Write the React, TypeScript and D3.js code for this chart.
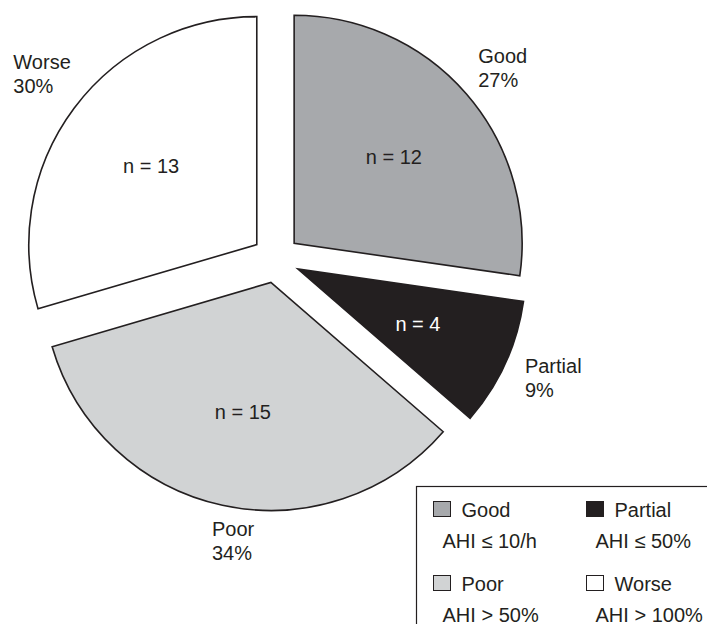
import { useEffect, useRef } from "react";
import * as d3 from "d3";

const categories = ["Good", "Partial", "Poor", "Worse"];
const counts = [12, 4, 15, 13];
const percents = ["27%", "9%", "34%", "30%"];
const criteria = ["AHI \u2264 10/h", "AHI \u2264 50%", "AHI > 50%", "AHI > 100%"];
const legendOrder = ["Good", "Partial", "Poor", "Worse"];

const W = 707;
const H = 624;
const CX = 276;
const CY = 259;
const RADIUS = 228;
const EXPLODE = 24;
const INNER_LABEL_R = 132;
const OUTER_LABEL_R = 296;
const FONT = "'Liberation Sans', Arial, Helvetica, sans-serif";
const INK = "#231f20";

const fills: Record<string, string> = {
  Good: "#a7a9ac",
  Partial: "#231f20",
  Poor: "#d1d3d4",
  Worse: "#ffffff",
};

// small nudges so the outside labels sit where the original put them
const labelNudge: Record<string, [number, number]> = {
  Good: [3, 3],
  Partial: [8, -4],
  Poor: [20, -7],
  Worse: [3, -8],
};

type Slice = { name: string; n: number; pct: string };

export default function App() {
  const svgRef = useRef<SVGSVGElement>(null);

  useEffect(() => {
    if (!svgRef.current) return;
    const svg = d3.select(svgRef.current);
    svg.selectAll("*").remove();

    const rows: Slice[] = categories.map((name, i) => ({
      name,
      n: counts[i],
      pct: percents[i],
    }));

    const pie = d3
      .pie<Slice>()
      .sort(null)
      .value((d) => d.n)
      .startAngle(0)
      .endAngle(2 * Math.PI);
    const arcs = pie(rows);

    const arc = d3
      .arc<d3.PieArcDatum<Slice>>()
      .innerRadius(0)
      .outerRadius(RADIUS);
    const labelArc = d3
      .arc<d3.PieArcDatum<Slice>>()
      .innerRadius(INNER_LABEL_R)
      .outerRadius(INNER_LABEL_R);

    const g = svg.append("g").attr("transform", `translate(${CX},${CY})`);

    const midDir = (d: d3.PieArcDatum<Slice>) => {
      const a = (d.startAngle + d.endAngle) / 2;
      return [Math.sin(a), -Math.cos(a)];
    };

    const slice = g
      .selectAll("g.slice")
      .data(arcs)
      .enter()
      .append("g")
      .attr("class", "slice")
      .attr("transform", (d) => {
        const [dx, dy] = midDir(d);
        return `translate(${dx * EXPLODE},${dy * EXPLODE})`;
      });

    slice
      .append("path")
      .attr("d", arc)
      .attr("fill", (d) => fills[d.data.name])
      .attr("stroke", INK)
      .attr("stroke-width", 1.6)
      .attr("stroke-linejoin", "miter");

    slice
      .append("text")
      .attr("transform", (d) => `translate(${labelArc.centroid(d)})`)
      .attr("text-anchor", "middle")
      .attr("dy", "0.36em")
      .style("font-family", FONT)
      .style("font-size", "20px")
      .style("fill", (d) => (d.data.name === "Partial" ? "#ffffff" : INK))
      .text((d) => `n = ${d.data.n}`);

    // outside labels: name + percent, left aligned block
    arcs.forEach((d) => {
      const [dx, dy] = midDir(d);
      const [nx, ny] = labelNudge[d.data.name];
      const bx = CX + dx * OUTER_LABEL_R + nx;
      const by = CY + dy * OUTER_LABEL_R + ny;
      const t = svg
        .append("text")
        .style("font-family", FONT)
        .style("font-size", "20px")
        .style("fill", INK);
      const l1 = t.append("tspan").attr("y", by - 12 + 7).text(d.data.name);
      const l2 = t.append("tspan").attr("y", by + 12 + 7).text(d.data.pct);
      const w = Math.max(
        (l1.node() as SVGTSpanElement).getComputedTextLength(),
        (l2.node() as SVGTSpanElement).getComputedTextLength()
      );
      l1.attr("x", bx - w / 2);
      l2.attr("x", bx - w / 2);
    });

    // legend
    const legend = svg.append("g").attr("transform", "translate(416.5,486.5)");
    legend
      .append("rect")
      .attr("width", 400)
      .attr("height", 200)
      .attr("fill", "#ffffff")
      .attr("stroke", INK)
      .attr("stroke-width", 1.2);

    const colX = d3.scalePoint<number>().domain([0, 1]).range([17, 170]);
    const rowY = d3.scalePoint<number>().domain([0, 1]).range([15, 89]);

    const item = legend
      .selectAll("g.item")
      .data(legendOrder)
      .enter()
      .append("g")
      .attr("class", "item")
      .attr(
        "transform",
        (_d, i) => `translate(${colX(i % 2)},${rowY(Math.floor(i / 2))})`
      );

    item
      .append("rect")
      .attr("width", 17)
      .attr("height", 15)
      .attr("fill", (d) => fills[d])
      .attr("stroke", INK)
      .attr("stroke-width", 1);

    item
      .append("text")
      .attr("x", 28)
      .attr("y", 15)
      .style("font-family", FONT)
      .style("font-size", "20px")
      .style("fill", INK)
      .text((d) => d);

    item
      .append("text")
      .attr("x", 9)
      .attr("y", 46)
      .style("font-family", FONT)
      .style("font-size", "20px")
      .style("fill", INK)
      .text((d) => criteria[categories.indexOf(d)]);
  }, []);

  return (
    <div
      style={{
        position: "absolute",
        left: 0,
        top: 0,
        width: W,
        height: H,
        background: "#ffffff",
        overflow: "hidden",
      }}
    >
      <svg ref={svgRef} width={W} height={H} style={{ display: "block" }} />
    </div>
  );
}
